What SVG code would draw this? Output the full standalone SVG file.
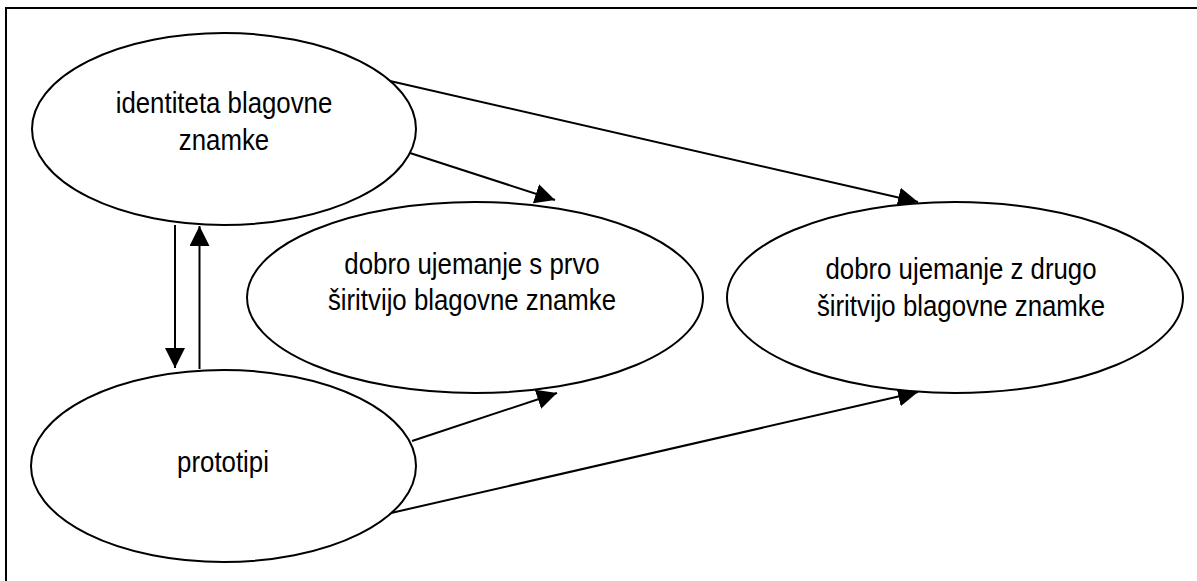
<svg xmlns="http://www.w3.org/2000/svg" width="1197" height="581" viewBox="0 0 1197 581">
  <style>
    .frame { fill: none; stroke: #000; stroke-width: 2; }
    .node ellipse { fill: #fff; stroke: #000; stroke-width: 2; }
    .node text { font-family: "Liberation Sans", Arial, sans-serif; font-size: 29.5px; fill: #000; text-anchor: middle; }
    .edge { fill: none; stroke: #000; stroke-width: 2; marker-end: url(#arrow); }
  </style>
  <defs>
    <marker id="arrow" markerUnits="userSpaceOnUse" markerWidth="20" markerHeight="20" refX="20" refY="10" orient="auto">
      <path d="M0,0 L20,10 L0,20 Z" fill="#000"/>
    </marker>
  </defs>
  <rect width="1197" height="581" fill="#fff"/>

  <!-- page frame: top and left edges only -->
  <path class="frame" d="M6,581 L6,8 L1197,8"/>

  <g id="connectors">
    <line class="edge" x1="175" y1="225" x2="175" y2="368"/>
    <line class="edge" x1="199.5" y1="369" x2="199.5" y2="226"/>
    <line class="edge" x1="410" y1="153" x2="555" y2="200"/>
    <line class="edge" x1="390" y1="81" x2="918" y2="202"/>
    <line class="edge" x1="412" y1="441" x2="557" y2="393"/>
    <line class="edge" x1="391" y1="513" x2="918" y2="392"/>
  </g>

  <g id="identiteta" class="node">
    <ellipse cx="224" cy="129" rx="192" ry="96"/>
    <g transform="translate(224,0) scale(0.875,1)">
      <text x="0" y="113">identiteta blagovne</text>
      <text x="0" y="150">znamke</text>
    </g>
  </g>

  <g id="prototipi" class="node">
    <ellipse cx="223.5" cy="466" rx="192.5" ry="96"/>
    <g transform="translate(223,0) scale(0.875,1)">
      <text x="0" y="472">prototipi</text>
    </g>
  </g>

  <g id="prva-siritev" class="node">
    <ellipse cx="475" cy="297.5" rx="228" ry="95.5"/>
    <g transform="translate(472,0) scale(0.875,1)">
      <text x="0" y="274">dobro ujemanje s prvo</text>
      <text x="0" y="310">širitvijo blagovne znamke</text>
    </g>
  </g>

  <g id="druga-siritev" class="node">
    <ellipse cx="955" cy="297.5" rx="228" ry="95.5"/>
    <g transform="translate(961,0) scale(0.875,1)">
      <text x="0" y="279">dobro ujemanje z drugo</text>
      <text x="0" y="316">širitvijo blagovne znamke</text>
    </g>
  </g>
</svg>
